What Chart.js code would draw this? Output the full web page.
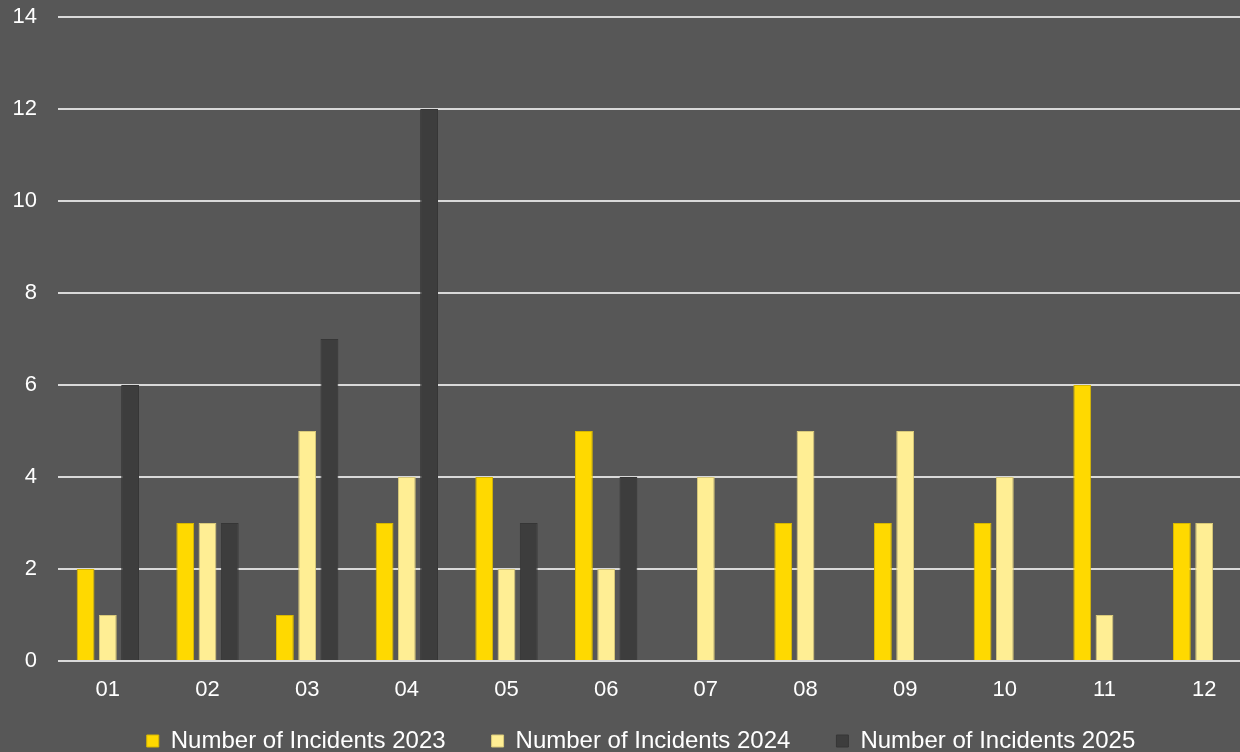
<!DOCTYPE html>
<html>
<head>
<meta charset="utf-8">
<script src="https://cdn.jsdelivr.net/npm/chart.js@4"></script>
<style>
  html, body { margin: 0; padding: 0; background: #575757; overflow: hidden; }
  #wrap { width: 1286px; height: 752px; }
</style>
</head>
<body>
<div id="wrap"><canvas id="incidentsChart"></canvas></div>
<script>
// months and incident counts per year
const months = ['01', '02', '03', '04', '05', '06', '07', '08', '09', '10', '11', '12'];
const incidents2023 = [2, 3, 1, 3, 4, 5, null, 3, 3, 3, 6, 3];
const incidents2024 = [1, 3, 5, 4, 2, 2, 4, 5, 5, 4, 1, 3];
const incidents2025 = [6, 3, 7, 12, 3, 4, null, null, null, null, null, null];
const yTicks = [0, 2, 4, 6, 8, 10, 12, 14];

const font = { family: '"Liberation Sans", Arial, sans-serif', size: 22 };

// legend padding also spaces the items apart, so after layout
// stretch the legend box up to where its single row should sit
const legendRow = {
    id: 'legendRow',
    afterLayout(chart) {
        const lg = chart.legend;
        lg.top = 683;
        lg.bottom = chart.height;
        lg.height = lg.bottom - lg.top;
        lg.left += 14;
        lg.right += 14;
    },
};

new Chart(document.getElementById('incidentsChart').getContext('2d'), {
    type: 'bar',
    data: {
        labels: months,
        datasets: [
            {
                label: 'Number of Incidents 2023',
                data: incidents2023,
                backgroundColor: '#FFD900',
                borderColor: '#D8B800',
                borderWidth: 1,
            },
            {
                label: 'Number of Incidents 2024',
                data: incidents2024,
                backgroundColor: '#FFEE94',
                borderColor: '#D8C97A',
                borderWidth: 1,
            },
            {
                label: 'Number of Incidents 2025',
                data: incidents2025,
                backgroundColor: '#3D3D3D',
                borderColor: '#363636',
                borderWidth: 1,
            },
        ],
    },
    plugins: [legendRow],
    options: {
        responsive: true,
        maintainAspectRatio: false,
        animation: false,
        categoryPercentage: 0.67,
        barPercentage: 0.8,
        layout: { padding: { top: 0, right: 32, bottom: 0, left: 0 } },
        plugins: {
            tooltip: { enabled: false },
            legend: {
                position: 'bottom',
                maxHeight: 48.6,
                labels: {
                    color: '#FFFFFF',
                    font: { family: font.family, size: 24 },
                    boxWidth: 12,
                    boxHeight: 12,
                    padding: 46,
                },
            },
        },
        scales: {
            x: {
                grid: { display: false, drawTicks: false },
                border: { display: false },
                ticks: { color: '#FFFFFF', font: font, padding: 16, maxRotation: 0 },
                afterFit: (scale) => { scale.height = 42.4; },
            },
            y: {
                min: 0,
                max: 14,
                afterBuildTicks: (scale) => { scale.ticks = yTicks.map((v) => ({ value: v })); },
                grid: { color: '#D9D9D9', lineWidth: 2, drawTicks: false },
                border: { display: false },
                ticks: { color: '#FFFFFF', font: font, padding: 21 },
                afterFit: (scale) => {
                    scale.width = 58;
                    scale.paddingTop = 17;
                    scale.paddingBottom = 0;
                },
            },
        },
    },
});
</script>
</body>
</html>
